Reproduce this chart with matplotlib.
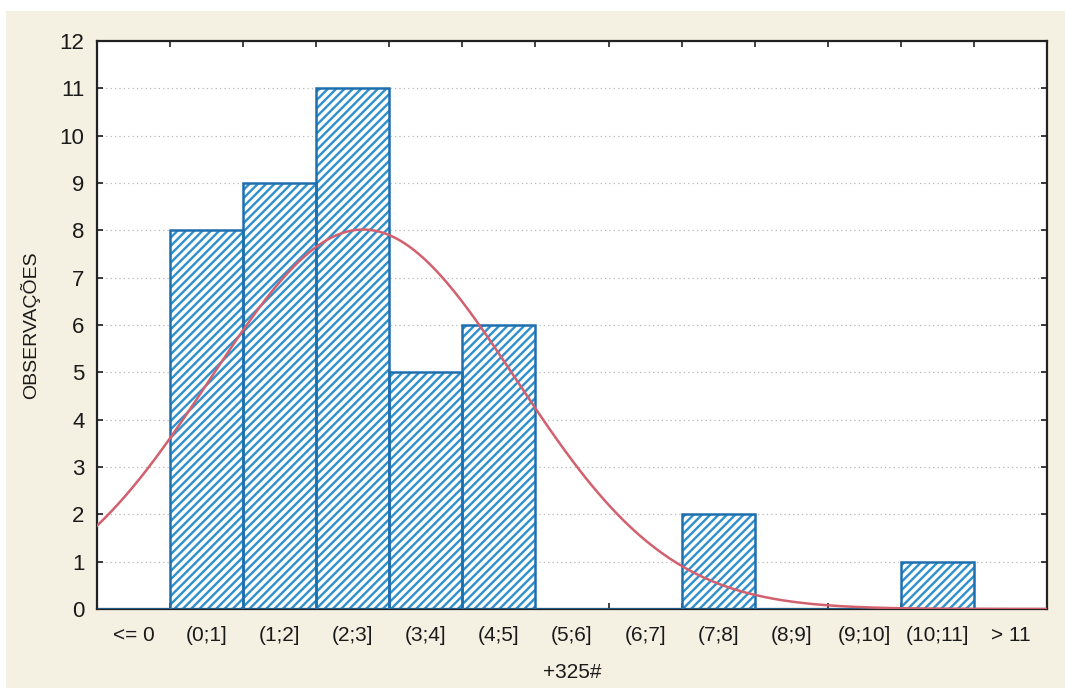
import numpy as np
import matplotlib
matplotlib.use("Agg")
import matplotlib.pyplot as plt
from matplotlib.patches import Rectangle
from matplotlib.ticker import FixedLocator, NullFormatter

plt.rcParams['font.family'] = ['Liberation Sans', 'DejaVu Sans']
plt.rcParams['hatch.linewidth'] = 1.7

# Histogram classes and observed counts
class_labels = ["<= 0", "(0;1]", "(1;2]", "(2;3]", "(3;4]", "(4;5]", "(5;6]",
                "(6;7]", "(7;8]", "(8;9]", "(9;10]", "(10;11]", "> 11"]
class_left = [-1, 0, 1, 2, 3, 4, 5, 6, 7, 8, 9, 10, 11]
counts = [0, 8, 9, 11, 5, 6, 0, 0, 2, 0, 0, 1, 0]

# Fitted normal distribution (expected counts per unit class)
fit_mean = 2.64
fit_sd = 2.09
n_obs = sum(counts)
class_width = 1.0

bar_edge = "#1f6fae"
hatch_blue = "#2e90cc"
curve_color = "#d2606e"
paper = "#f4f0e2"

fig = plt.figure(figsize=(10.65, 6.88), dpi=100)
fig.patch.set_facecolor("white")
fig.patches.append(Rectangle((6 / 1065, 0), 1, 1 - 11 / 688, transform=fig.transFigure,
                             facecolor=paper, edgecolor="none", zorder=-10))

ax = fig.add_axes([97 / 1065, 1 - 609 / 688, 950 / 1065, 568 / 688])
ax.set_facecolor("white")

# horizontal dotted grid
for yv in range(1, 12):
    ax.axhline(yv, color="#b8b8b8", lw=0.9, ls=(0, (1, 2.5)), zorder=0.5)

# hatched bars: hatch takes the (light) edge colour, outline drawn separately
ax.bar(class_left, counts, width=class_width, align="edge",
       facecolor="white", edgecolor=hatch_blue, hatch="////", linewidth=0, zorder=2)
ax.bar(class_left, counts, width=class_width, align="edge",
       facecolor="none", edgecolor=bar_edge, linewidth=1.8, zorder=3)

xs = np.linspace(-1, 12, 400)
ys = n_obs * class_width / (fit_sd * np.sqrt(2 * np.pi)) * np.exp(-0.5 * ((xs - fit_mean) / fit_sd) ** 2)
ax.plot(xs, ys, color=curve_color, lw=1.8, zorder=4)

ax.set_xlim(-1, 12)
ax.set_ylim(0, 12)

centers = [l + 0.5 for l in class_left]
ax.xaxis.set_major_locator(FixedLocator(centers))
ax.set_xticklabels(class_labels)
ax.xaxis.set_minor_locator(FixedLocator(list(range(0, 12))))
ax.xaxis.set_minor_formatter(NullFormatter())
ax.tick_params(axis="x", which="major", length=0, pad=12, labelsize=15, colors="#1a1a1a")
ax.tick_params(axis="x", which="minor", direction="in", length=4, width=1.2,
               top=True, bottom=True, color="#222222")

ax.set_yticks(range(0, 13))
ax.tick_params(axis="y", which="major", direction="in", length=4, width=1.2,
               left=True, right=True, pad=9, labelsize=16, colors="#1a1a1a")

for sp in ax.spines.values():
    sp.set_color("#222222")
    sp.set_linewidth(1.6)

ax.set_ylabel("OBSERVAÇÕES", fontsize=14, color="#1a1a1a", labelpad=14)
ax.set_xlabel("+325#", fontsize=15, color="#1a1a1a", labelpad=13)

fig.savefig("out.png", dpi=100, facecolor=fig.get_facecolor())
